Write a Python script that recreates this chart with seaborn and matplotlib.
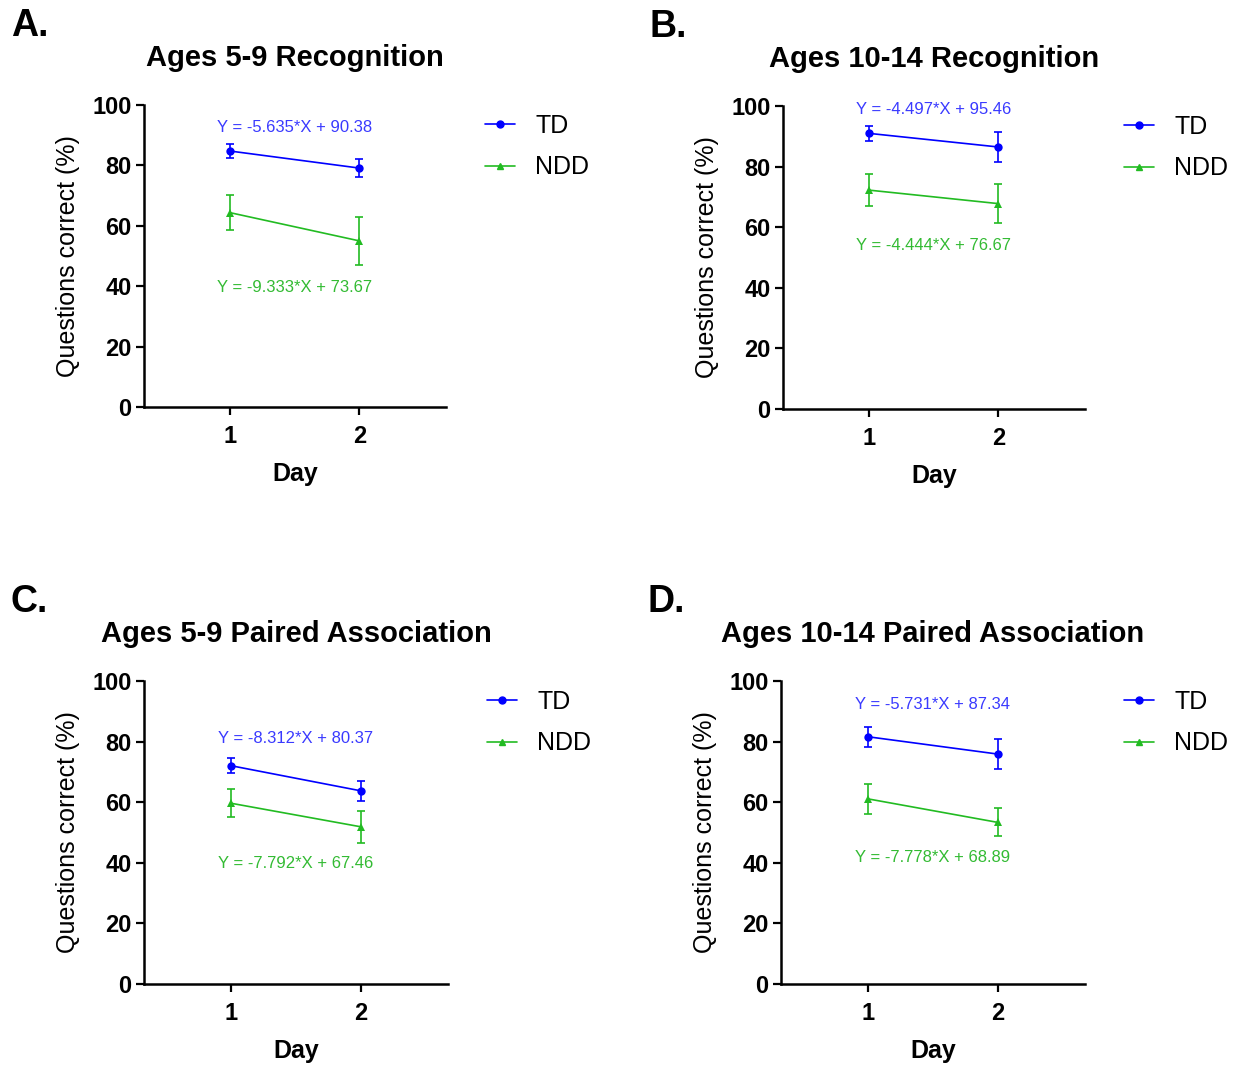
import numpy as np
import pandas as pd
import matplotlib
matplotlib.use("Agg")
import matplotlib.pyplot as plt
import seaborn as sns

# data (mean % correct per day, error = SEM-ish bars)
days = [1, 2]
groups = ["TD", "NDD"]

panel_letters = ["A.", "B.", "C.", "D."]
panel_titles = [
    "Ages 5-9 Recognition",
    "Ages 10-14 Recognition",
    "Ages 5-9 Paired Association",
    "Ages 10-14 Paired Association",
]

td_means = [[84.75, 79.11], [90.96, 86.47], [72.06, 63.75], [81.61, 75.88]]
td_errs = [[2.2, 2.9], [2.6, 5.0], [2.4, 3.3], [3.3, 5.0]]
ndd_means = [[64.34, 55.00], [72.23, 67.78], [59.67, 51.88], [61.11, 53.33]]
ndd_errs = [[5.8, 7.9], [5.2, 6.4], [4.7, 5.3], [5.0, 4.6]]

td_eqs = ["Y = -5.635*X + 90.38", "Y = -4.497*X + 95.46",
          "Y = -8.312*X + 80.37", "Y = -5.731*X + 87.34"]
ndd_eqs = ["Y = -9.333*X + 73.67", "Y = -4.444*X + 76.67",
           "Y = -7.792*X + 67.46", "Y = -7.778*X + 68.89"]
td_eq_y = [92.7, 98.7, 80.9, 92.1]
ndd_eq_y = [39.7, 53.8, 39.9, 41.9]

y_ticks = [0, 20, 40, 60, 80, 100]

td_col = "#0000ff"
ndd_col = "#22bb22"
pal = {"TD": td_col, "NDD": ndd_col}

sns.set_style("ticks")
plt.rcParams["font.family"] = ["Liberation Sans", "DejaVu Sans"]
plt.rcParams["text.color"] = "black"
plt.rcParams["axes.labelcolor"] = "black"
plt.rcParams["xtick.color"] = "black"
plt.rcParams["ytick.color"] = "black"

W, H = 1235, 1065
fig = plt.figure(figsize=(W / 100, H / 100), dpi=100)

# axes boxes in pixels: left, top, right, bottom
boxes = [(144, 105, 446, 407), (783, 106, 1085, 409),
         (144, 681, 448, 984), (781, 681, 1085, 984)]

for i in range(4):
    l, t, r, b = boxes[i]
    ax = fig.add_axes([l / W, (H - b) / H, (r - l) / W, (b - t) / H])

    df = pd.DataFrame({
        "day": days * 2,
        "pct": td_means[i] + ndd_means[i],
        "grp": ["TD"] * 2 + ["NDD"] * 2,
    })
    sns.lineplot(data=df, x="day", y="pct", hue="grp", style="grp",
                 hue_order=groups, style_order=groups, palette=pal,
                 markers={"TD": "o", "NDD": "^"}, dashes=False,
                 linewidth=1.2, markersize=6, markeredgewidth=0,
                 ax=ax, legend=False, clip_on=False)
    ax.errorbar(days, td_means[i], yerr=td_errs[i], fmt="none",
                ecolor=td_col, elinewidth=1.2, capsize=3, capthick=1.2, clip_on=False)
    ax.errorbar(days, ndd_means[i], yerr=ndd_errs[i], fmt="none",
                ecolor=ndd_col, elinewidth=1.2, capsize=3, capthick=1.2, clip_on=False)

    ax.text(1.5, td_eq_y[i], td_eqs[i], color="#3a3aff", fontsize=12,
            ha="center", va="center")
    ax.text(1.5, ndd_eq_y[i], ndd_eqs[i], color="#33bb33", fontsize=12,
            ha="center", va="center")

    ax.set_xlim(0.333, 2.67)
    ax.set_ylim(0, 100)
    ax.set_xticks(days)
    ax.set_yticks(y_ticks)
    ax.set_xticklabels([str(d) for d in days], fontweight="bold", fontsize=17)
    ax.set_yticklabels([str(v) for v in y_ticks], fontweight="bold", fontsize=17)
    ax.tick_params(width=1.6, length=6, color="black")
    ax.tick_params(axis="x", pad=7)
    ax.tick_params(axis="y", pad=3)
    sns.despine(ax=ax)
    for s in ["left", "bottom"]:
        ax.spines[s].set_linewidth(1.8)
        ax.spines[s].set_color("black")

    ax.set_xlabel("Day", fontweight="bold", fontsize=18, labelpad=10)
    ax.set_ylabel("Questions correct (%)", fontsize=18, labelpad=9)
    ax.set_title(panel_titles[i], fontweight="bold", fontsize=21, pad=28)

    # legend outside to the right
    h_td = plt.Line2D([], [], color=td_col, marker="o", markersize=5, lw=1.2)
    h_ndd = plt.Line2D([], [], color=ndd_col, marker="^", markersize=5, lw=1.2)
    ax.legend([h_td, h_ndd], groups, loc="upper left", bbox_to_anchor=(1.055, 1.045),
              frameon=False, fontsize=18, handlelength=1.2, handletextpad=0.8,
              labelspacing=0.7)

    # panel letter
    fig.text((l - 133) / W, 1 - 26 / H - (t - 105) / H, panel_letters[i],
             fontsize=27, fontweight="bold", va="center", ha="left")

fig.savefig("out.png", dpi=100)
